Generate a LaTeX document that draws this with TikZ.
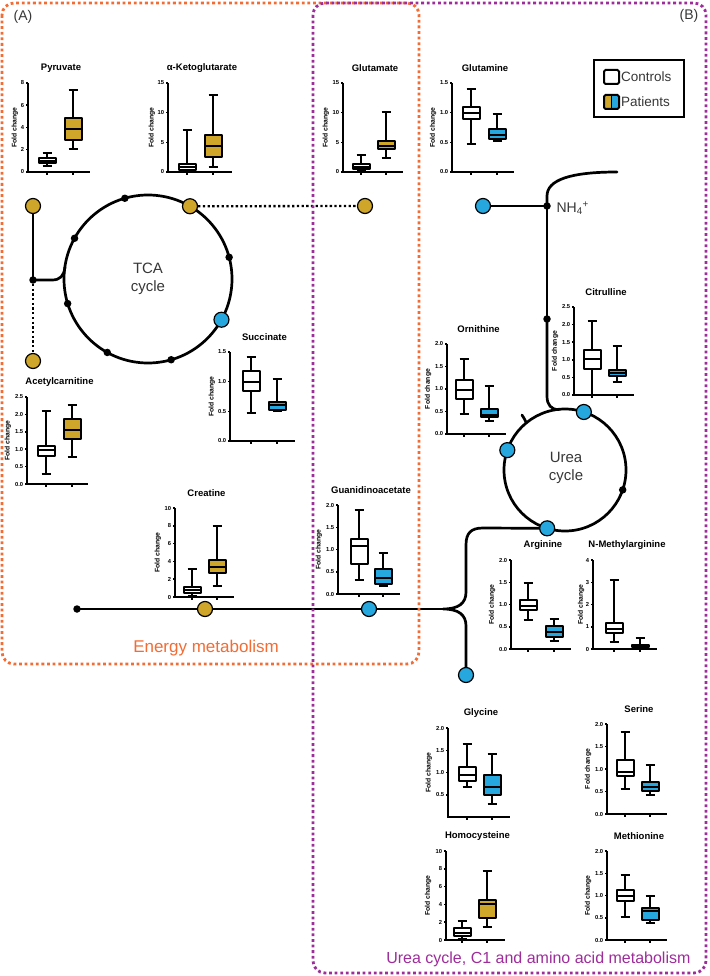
\documentclass[tikz,border=0pt]{standalone}
\usepackage{fontspec}
\setmainfont{Liberation Sans}
\usetikzlibrary{backgrounds}
\pgfdeclarelayer{paper}
\pgfsetlayers{paper,background,main}

\definecolor{cor}{RGB}{243,108,52}
\definecolor{cpu}{RGB}{158,45,155}
\definecolor{cgold}{RGB}{207,166,42}
\definecolor{cblue}{RGB}{38,167,222}
\definecolor{ctxt}{RGB}{55,55,55}

\tikzset{
 pw/.style={line width=2.7pt, line cap=round},
 dotl/.style={line width=2.3pt, dash pattern=on 2.3pt off 2.4pt},
 met/.style={circle, draw=black, line width=1.2pt, minimum size=15pt, inner sep=0pt},
 gm/.style={met, fill=cgold},
 bm/.style={met, fill=cblue},
 bdot/.style={circle, fill=black, minimum size=7.5pt, inner sep=0pt},
 axst/.style={line width=1.5pt},
 whisk/.style={line width=2pt},
 boxst/.style={line width=2pt, line join=round},
 ticklab/.style={anchor=east, inner sep=0.6pt, font=\fontsize{5.8}{7}\selectfont\bfseries},
 titlest/.style={font=\fontsize{9.5}{11}\selectfont\bfseries},
 foldst/.style={rotate=90, font=\fontsize{6.8}{8}\selectfont\bfseries},
 region/.style={line width=2.8pt, dash pattern=on 2.8pt off 2.8pt, rounded corners=12pt},
 cyc/.style={font=\fontsize{15}{17.5}\selectfont, text=ctxt, align=center},
}

% boxplot frame: x0, y0 (bottom), height px, width px, ymax, ticks, title, fold-label offset
\newcommand\bpstart[8]{%
  \pgfmathsetmacro\kk{#3/#5}%
  \begin{scope}[shift={(#1,#2)}, y={(0pt,\kk pt)}]
  \draw[axst] (0,#5) -- (0,0) -- (#4,0);
  \foreach \tk in {#6} {\draw[axst] (0,\tk) -- ++(-2.5pt,0pt) node[ticklab]{\tk};}
  \node[titlest, yshift=15pt] (ttl-#1-#2) at (#4/2+2,#5) {#7};
  \node[foldst] (fc-#1-#2) at (-#8,#5/2) {Fold change};
}
% box: x centre, lo, q1, median, q3, hi, fill
\newcommand\bx[7]{%
  \draw[axst] (#1,0) -- ++(0pt,-3pt);
  \draw[whisk] (#1,#2) -- (#1,#6) (#1-4.5,#2) -- (#1+4.5,#2) (#1-4.5,#6) -- (#1+4.5,#6);
  \filldraw[boxst, fill=#7] (#1-8.5,#3) rectangle (#1+8.5,#5);
  \draw[whisk] (#1-8.5,#4) -- (#1+8.5,#4);
}

\begin{document}
\begin{tikzpicture}[x=1pt,y=-1pt]
\begin{pgfonlayer}{paper}\fill[white] (0,0) rectangle (709,976);\end{pgfonlayer}
\useasboundingbox (0,0) rectangle (709,976);

% regions
\draw[region, cor] (2,3) rectangle (419,664);
\draw[region, cpu] (313,3) rectangle (706,973);
\node[font=\fontsize{14}{16}\selectfont, text=ctxt] (labA) at (23,17) {(A)};
\node[font=\fontsize{14}{16}\selectfont, text=ctxt] (labB) at (689,16) {(B)};
\node[font=\fontsize{17}{20}\selectfont, text=cor] (energy) at (206,648) {Energy metabolism};
\node[font=\fontsize{16}{19}\selectfont, text=cpu, anchor=east] (urealab) at (694,959) {Urea cycle, C1 and amino acid metabolism};

% legend
\draw[line width=2pt] (594,60) rectangle (684,117);
\draw[line width=2pt, rounded corners=1.5pt, fill=white] (604,70) rectangle (619,84);
\fill[cgold] (604,95) rectangle (611.5,109);
\fill[cblue] (611.5,95) rectangle (619,109);
\draw[line width=1pt] (611.5,95) -- (611.5,109);
\draw[line width=2pt, rounded corners=1.5pt] (604,95) rectangle (619,109);
\node[anchor=west, font=\fontsize{13.5}{15}\selectfont, text=ctxt, inner sep=1pt] (lc) at (620,77) {Controls};
\node[anchor=west, font=\fontsize{13.5}{15}\selectfont, text=ctxt, inner sep=1pt] (lp) at (620,102) {Patients};

% ---------------- pathway nodes ----------------
\coordinate (tca) at (148,279);
\coordinate (urea) at (565,470);
\node[cyc] (tcalab) at (tca) {TCA\\cycle};
\node[cyc] (urealab2) at (566,468) {Urea\\cycle};

\path (tca) ++(-106:84) node[bdot] (t1) {};
\path (tca) ++(-60:84) node[gm] (akg) {};
\path (tca) ++(-15:84) node[bdot] (t2) {};
\path (tca) ++(29:84) node[bm] (suc) {};
\path (tca) ++(74:84) node[bdot] (t3) {};
\path (tca) ++(119:84) node[bdot] (t4) {};
\path (tca) ++(163:84) node[bdot] (t5) {};
\path (tca) ++(-151:84) node[bdot] (t6) {};

\node[gm] (pyr) at (33,206) {};
\node[bdot] (jL) at (33,280) {};
\node[gm] (acar) at (33,361) {};
\node[gm] (glu) at (365,206) {};

\node[bm] (gln) at (483,206) {};
\node[bdot] (nh) at (547,206) {};
\node[bdot] (u1) at (547,319) {};
\node[font=\fontsize{14}{16}\selectfont, text=ctxt, anchor=west] (nh4) at (553,208) {NH\textsubscript{4}\textsuperscript{+}};

\path (urea) ++(-72:61) node[bm] (cit) {};
\path (urea) ++(-161:61) node[bm] (orn) {};
\path (urea) ++(107:61) node[bm] (arg) {};
\path (urea) ++(19:61) node[bdot] (ud) {};

\node[bdot] (dl) at (77,609) {};
\node[gm] (cre) at (205,609) {};
\node[bm] (gaa) at (369,609) {};
\node[bm] (gly) at (466,675) {};

\coordinate (brace) at (443,609);
\coordinate (nhend) at (617,172);
\coordinate (tcajoin) at (65,267);
\coordinate (ureajoin) at (559,409.6);

\begin{pgfonlayer}{background}
\draw[pw] (tca) circle[radius=84];
\draw[pw] (urea) circle[radius=61];
\draw[pw] (pyr) -- (jL.center);
\draw[pw] (jL.center) -- (52,280) .. controls (60,280) and (64,276) .. (tcajoin);
\draw[dotl] (jL) -- (acar);
\draw[dotl] (akg) -- (glu);
\draw[pw] (gln) -- (nh.center);
\draw[pw] (nh.center) -- (547,196) .. controls (547,180) and (570,172) .. (nhend);
\draw[pw] (nh.center) -- (u1.center);
\draw[pw] (u1.center) -- (547,396) .. controls (547,405) and (551,409.6) .. (ureajoin);
\draw[pw] (arg.center) -- (483,528) .. controls (471,528) and (466,533) .. (466,545) -- (466,592)
   .. controls (466,603) and (459,609) .. (brace)
   .. controls (459,609) and (466,615) .. (466,626) -- (gly);
\draw[pw] (dl.center) -- (brace);
\draw[pw] (526.5,423) .. controls (525,420) and (524,418) .. (522,415);
\end{pgfonlayer}

% ---------------- box plots ----------------
\bpstart{28}{172}{89}{62}{8}{0,2,4,6,8}{Pyruvate}{13}
 \bx{19}{0.5}{0.8}{1.0}{1.3}{1.7}{white}
 \bx{45}{2.1}{2.9}{3.9}{4.85}{7.4}{cgold}
\end{scope}

\bpstart{168}{172}{89}{64}{15}{0,5,10,15}{α-Ketoglutarate}{16}
 \bx{19}{0.1}{0.3}{0.8}{1.4}{7.0}{white}
 \bx{45}{0.8}{2.5}{4.4}{6.3}{13}{cgold}
\end{scope}

\bpstart{343}{172}{89}{60}{15}{0,5,10,15}{Glutamate}{17}
 \bx{18}{0.3}{0.5}{0.9}{1.3}{2.8}{white}
 \bx{43}{2.3}{3.8}{4.4}{5.3}{10.1}{cgold}
\end{scope}

\bpstart{452}{172}{89}{62}{1.5}{0.0,0.5,1.0,1.5}{Glutamine}{19}
 \bx{19}{0.48}{0.9}{1.0}{1.1}{1.4}{white}
 \bx{45}{0.52}{0.55}{0.63}{0.72}{0.97}{cblue}
\end{scope}

\bpstart{27}{484}{87}{61}{2.5}{0.0,0.5,1.0,1.5,2.0,2.5}{Acetylcarnitine}{19}
 \bx{19}{0.3}{0.8}{0.97}{1.1}{2.1}{white}
 \bx{45}{0.78}{1.28}{1.55}{1.87}{2.27}{cgold}
\end{scope}

\bpstart{230}{441}{89}{65}{1.5}{0.0,0.5,1.0,1.5}{Succinate}{18}
 \bx{21}{0.47}{0.85}{1.0}{1.18}{1.42}{white}
 \bx{47}{0.5}{0.53}{0.6}{0.66}{1.05}{cblue}
\end{scope}

\bpstart{175}{597}{89}{59}{10}{0,2,4,6,8,10}{Creatine}{17}
 \bx{17}{0.1}{0.4}{0.8}{1.1}{3.2}{white}
 \bx{42}{1.2}{2.7}{3.4}{4.2}{8.0}{cgold}
\end{scope}

\bpstart{338}{594}{89}{62}{2.0}{0.0,0.5,1.0,1.5,2.0}{Guanidinoacetate}{19}
 \bx{21}{0.32}{0.68}{1.07}{1.23}{1.88}{white}
 \bx{45}{0.17}{0.23}{0.35}{0.56}{0.92}{cblue}
\end{scope}

\bpstart{447}{434}{90}{59}{2.0}{0.0,0.5,1.0,1.5,2.0}{Ornithine}{19}
 \bx{17}{0.45}{0.78}{0.98}{1.2}{1.67}{white}
 \bx{42}{0.28}{0.37}{0.43}{0.55}{1.07}{cblue}
\end{scope}

\bpstart{574}{395}{88}{60}{2.5}{0.0,0.5,1.0,1.5,2.0,2.5}{Citrulline}{19}
 \bx{18}{0}{0.73}{1.02}{1.28}{2.1}{white}
 \bx{43}{0.38}{0.53}{0.62}{0.72}{1.4}{cblue}
\end{scope}

\bpstart{511}{649}{89}{60}{2.0}{0.0,0.5,1.0,1.5,2.0}{Arginine}{19}
 \bx{17}{0.65}{0.87}{0.97}{1.1}{1.48}{white}
 \bx{43}{0.18}{0.28}{0.38}{0.51}{0.67}{cblue}
\end{scope}

\bpstart{593}{649}{89}{64}{4}{0,1,2,3,4}{N-Methylarginine}{12}
 \bx{21}{0.33}{0.72}{0.9}{1.15}{3.12}{white}
 \bx{47}{0.02}{0.1}{0.15}{0.2}{0.5}{cblue}
\end{scope}

\bpstart{448}{817}{89}{62}{2.0}{0.5,1.0,1.5,2.0}{Glycine}{19}
 \bx{19}{0.67}{0.82}{0.95}{1.12}{1.65}{white}
 \bx{44}{0.3}{0.5}{0.68}{0.94}{1.42}{cblue}
\end{scope}

\bpstart{607}{814}{90}{60}{2.0}{0.0,0.5,1.0,1.5,2.0}{Serine}{19}
 \bx{18}{0.55}{0.85}{0.93}{1.2}{1.83}{white}
 \bx{43}{0.42}{0.52}{0.6}{0.72}{1.1}{cblue}
\end{scope}

\bpstart{446}{940}{89}{59}{10}{0,2,4,6,8,10}{Homocysteine}{18}
 \bx{16}{0.1}{0.5}{0.8}{1.3}{2.1}{white}
 \bx{41}{1.5}{2.5}{4.1}{4.5}{7.8}{cgold}
\end{scope}

\bpstart{607}{940}{89}{60}{2.0}{0.0,0.5,1.0,1.5,2.0}{Methionine}{19}
 \bx{18}{0.52}{0.88}{0.98}{1.13}{1.45}{white}
 \bx{43}{0.38}{0.45}{0.65}{0.72}{1.0}{cblue}
\end{scope}

\end{tikzpicture}
\end{document}
